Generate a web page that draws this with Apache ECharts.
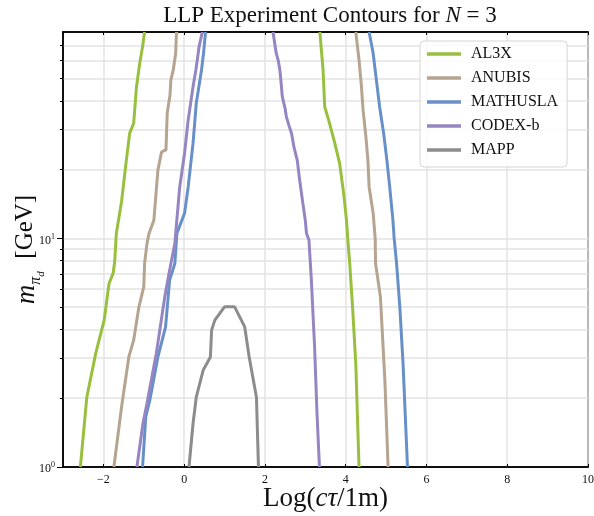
<!DOCTYPE html>
<html>
<head>
<meta charset="utf-8">
<script src="https://cdn.jsdelivr.net/npm/echarts@6/dist/echarts.min.js"></script>
<style>
html,body{margin:0;padding:0;background:#fff;}
#chart{width:594px;height:516px;}
</style>
</head>
<body>
<div id="chart"></div>
<script>
// ---- data ----
const seriesNames = ['AL3X', 'ANUBIS', 'MATHUSLA', 'CODEX-b', 'MAPP'];
const xTickValues = [-2, 0, 2, 4, 6, 8, 10];
const yMinorValues = [2, 3, 4, 5, 6, 7, 8, 9, 10, 20, 30, 40, 50, 60, 70];

const al3xLeft = [[-2.57,1],[-2.41,2.02],[-2.19,3.14],[-1.98,4.39],[-1.86,6.35],[-1.76,7.03],[-1.72,7.9],[-1.68,10.5],[-1.55,14.5],[-1.45,20.6],[-1.35,28.8],[-1.25,31.9],[-1.18,46.1],[-1.10,58.4],[-1.03,69],[-0.98,80]];
const al3xRight = [[3.36,80],[3.44,54.6],[3.48,37.7],[3.60,31.9],[3.73,26.1],[3.85,21.3],[3.95,15.7],[4.02,12.0],[4.05,10],[4.10,7.77],[4.17,5.02],[4.25,2.84],[4.33,1]];

const anubisLeft = [[-1.74,1],[-1.55,1.83],[-1.37,3.03],[-1.25,3.59],[-1.12,5.02],[-1.0,6.14],[-0.98,7.77],[-0.92,9.51],[-0.87,10.5],[-0.75,12.0],[-0.65,19.9],[-0.56,23.9],[-0.45,24.4],[-0.42,35.3],[-0.35,42.4],[-0.33,49.3],[-0.27,54.6],[-0.21,64.6],[-0.19,80]];
const anubisRight = [[4.25,80],[4.33,60.4],[4.39,46.1],[4.43,36.5],[4.50,27.9],[4.55,22.0],[4.58,16.8],[4.68,12.9],[4.73,10],[4.74,7.77],[4.86,5.55],[4.97,2.4],[5.05,1]];

const mathuslaLeft = [[-1.03,1],[-0.95,1.66],[-0.85,1.96],[-0.65,3.03],[-0.46,4.10],[-0.36,6.57],[-0.23,7.77],[-0.18,10.5],[0.01,12.9],[0.10,16.8],[0.22,26.1],[0.30,39.0],[0.43,54.6],[0.48,64.6],[0.53,80]];
const mathuslaRight = [[4.58,80],[4.68,64.6],[4.76,49.3],[4.84,37.7],[4.94,28.8],[5.02,22.0],[5.09,16.8],[5.17,12.0],[5.20,10],[5.26,7.77],[5.34,5.02],[5.42,2.84],[5.53,1]];

const codexLeft = [[-1.17,1],[-1.02,1.55],[-0.92,1.90],[-0.69,3.14],[-0.48,5.55],[-0.36,7.26],[-0.23,9.51],[-0.21,10.5],[-0.11,16.8],[0.01,23.6],[0.10,33.0],[0.22,46.1],[0.29,54.6],[0.37,69],[0.45,80]];
const codexRight = [[2.20,80],[2.25,70],[2.28,64.6],[2.33,60],[2.37,54.6],[2.40,48],[2.43,41.7],[2.50,37],[2.53,34.1],[2.60,31],[2.66,28.8],[2.72,25],[2.80,22.0],[2.86,18.0],[2.94,14.2],[3.00,12],[3.03,10.5],[3.09,9.84],[3.15,6.57],[3.23,3.35],[3.29,1.71],[3.35,1]];

const mappCurve = [[0.12,1],[0.22,1.55],[0.30,2.02],[0.47,2.65],[0.65,3.03],[0.68,3.97],[0.76,4.39],[1.00,5.02],[1.25,5.02],[1.50,4.10],[1.61,3.03],[1.79,2.02],[1.84,1]];

const colors = {
  'AL3X': '#99bf3f',
  'ANUBIS': '#b6a390',
  'MATHUSLA': '#6890c8',
  'CODEX-b': '#9585c2',
  'MAPP': '#8c8c8c'
};

const SERIF = '"Liberation Serif", "DejaVu Serif", serif';

function lineSeries(name, data) {
  return {
    name: name,
    type: 'line',
    data: data,
    showSymbol: false,
    symbol: 'none',
    clip: true,
    lineStyle: { width: 3, color: colors[name] },
    itemStyle: { color: colors[name] },
    emphasis: { disabled: true },
    animation: false
  };
}

const chart = echarts.init(document.getElementById('chart'), null, { renderer: 'canvas' });

const option = {
  animation: false,
  backgroundColor: '#fff',
  title: {
    text: '{n|LLP Experiment Contours for }{i|N}{n| = 3}',
    left: 325,
    textAlign: 'center',
    top: -1,
    textStyle: {
      fontWeight: 'normal',
      rich: {
        n: { fontFamily: SERIF, fontSize: 23, fontWeight: 'normal', color: '#111' },
        i: { fontFamily: SERIF, fontSize: 23, fontWeight: 'normal', fontStyle: 'italic', color: '#111' }
      }
    }
  },
  grid: {
    left: 63, right: 6, top: 32, bottom: 49,
    outerBoundsMode: 'none',
    containLabel: false,
    show: true, borderColor: '#000', borderWidth: 1.5, backgroundColor: 'transparent'
  },
  legend: {
    data: seriesNames,
    orient: 'vertical',
    left: 420,
    top: 41,
    padding: [4, 9, 8, 7],
    itemWidth: 34,
    itemHeight: 3.5,
    itemGap: 6,
    icon: 'rect',
    backgroundColor: 'rgba(255,255,255,0.85)',
    borderColor: '#d6d6d6',
    borderWidth: 1,
    borderRadius: 4,
    textStyle: { fontFamily: SERIF, fontSize: 16, color: '#111', lineHeight: 18, padding: [0, 0, 0, 5] }
  },
  xAxis: [
    {
      type: 'value', min: -3, max: 10, position: 'bottom',
      axisLine: { show: true, onZero: false, lineStyle: { color: '#000', width: 1.5 } },
      axisTick: { show: true, inside: true, length: 3, customValues: xTickValues, lineStyle: { color: '#000' } },
      axisLabel: {
        customValues: xTickValues,
        fontFamily: SERIF, fontSize: 12, color: '#111', margin: 7,
        formatter: v => (v < 0 ? '\u2212' + Math.abs(v) : String(v))
      },
      splitLine: { show: true, lineStyle: { color: '#e3e3e3', width: 1.5 } },
      name: '{n|Log(}{i|c\u03c4}{n|/1m)}',
      nameLocation: 'middle',
      nameMoveOverlap: false,
      nameGap: 18,
      nameTextStyle: {
        rich: {
          n: { fontFamily: SERIF, fontSize: 27, color: '#111' },
          i: { fontFamily: SERIF, fontSize: 27, fontStyle: 'italic', color: '#111' }
        }
      }
    },
    {
      type: 'value', min: -3, max: 10, position: 'top',
      axisLine: { show: true, onZero: false, lineStyle: { color: '#000', width: 1.5 } },
      axisTick: { show: true, inside: true, length: 3, customValues: xTickValues, lineStyle: { color: '#000' } },
      axisLabel: { show: false },
      splitLine: { show: false }
    }
  ],
  yAxis: [
    {
      type: 'log', logBase: 10, min: 1, max: 80, position: 'left',
      axisLine: { show: true, onZero: false, lineStyle: { color: '#000', width: 1.5 } },
      axisTick: { show: true, length: 6, lineStyle: { color: '#000' } },
      axisLabel: {
        showMaxLabel: false,
        margin: 8,
        formatter: v => {
          const e = Math.round(Math.log10(v));
          if (Math.abs(Math.log10(v) - e) > 1e-6) return '';
          return '{b|10}{s|' + e + '}';
        },
        rich: {
          b: { fontFamily: SERIF, fontSize: 12, color: '#111', lineHeight: 16, verticalAlign: 'bottom' },
          s: { fontFamily: SERIF, fontSize: 8, color: '#111', lineHeight: 8, verticalAlign: 'top', padding: [2, 0, 0, 0] }
        }
      },
      splitLine: { show: false },
      name: '{m|m}{p|\u03c0}{d|d}{g|  [GeV]}',
      nameLocation: 'middle',
      nameRotate: 90,
      nameMoveOverlap: false,
      nameGap: 20,
      nameTextStyle: {
        rich: {
          m: { fontFamily: SERIF, fontSize: 27, fontStyle: 'italic', color: '#111', lineHeight: 30, verticalAlign: 'top' },
          p: { fontFamily: SERIF, fontSize: 16, fontStyle: 'italic', color: '#111', lineHeight: 16, verticalAlign: 'top', padding: [15, 0, 0, 0] },
          d: { fontFamily: SERIF, fontSize: 11, fontStyle: 'italic', color: '#111', lineHeight: 11, verticalAlign: 'top', padding: [23, 0, 0, 0] },
          g: { fontFamily: SERIF, fontSize: 25, color: '#111', lineHeight: 30, verticalAlign: 'top' }
        }
      }
    },
    {
      type: 'log', logBase: 10, min: 1, max: 80, position: 'left',
      axisLine: { show: false, onZero: false },
      axisTick: { show: true, length: 3, customValues: yMinorValues, lineStyle: { color: '#000' } },
      axisLabel: { show: false },
      splitLine: { show: true, lineStyle: { color: '#e3e3e3', width: 1.5 } }
    }
  ],
  series: [
    lineSeries('AL3X', al3xLeft),
    lineSeries('AL3X', al3xRight),
    lineSeries('ANUBIS', anubisLeft),
    lineSeries('ANUBIS', anubisRight),
    lineSeries('MATHUSLA', mathuslaLeft),
    lineSeries('MATHUSLA', mathuslaRight),
    lineSeries('CODEX-b', codexLeft),
    lineSeries('CODEX-b', codexRight),
    lineSeries('MAPP', mappCurve)
  ]
};

chart.setOption(option);
</script>
</body>
</html>
